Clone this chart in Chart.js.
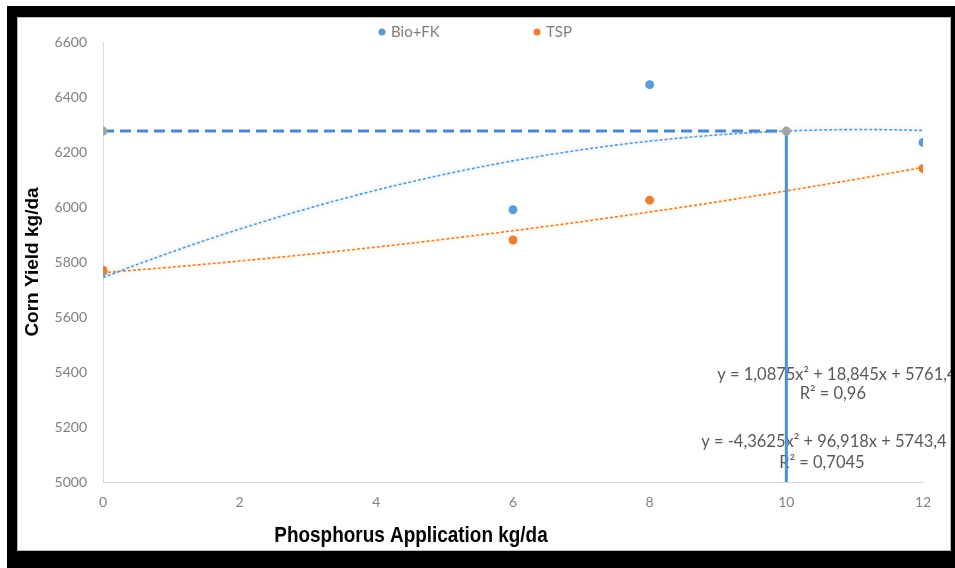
<!DOCTYPE html>
<html>
<head>
<meta charset="utf-8">
<script src="https://cdn.jsdelivr.net/npm/chart.js@4.4.0/dist/chart.umd.min.js"></script>
<style>
  html, body { margin: 0; padding: 0; background: #fff; }
  #frame { position: absolute; left: 7px; top: 6px; width: 948px; height: 562px; background: #000; }
  #chart { position: absolute; left: 17px; top: 17px; width: 934px; height: 534px; background: #fff; box-shadow: inset 0 0 0 1px #b8b8b8; }
</style>
</head>
<body>
<div id="frame"></div>
<div id="chart"><canvas id="c"></canvas></div>
<script>
// phosphorus dose (kg/da) and measured corn yield (kg/da)
const phosphorus = [0, 6, 8, 12];
const bioFkYield = [5765, 5990, 6445, 6235];
const tspYield = [5770, 5880, 6025, 6140];

// polynomial trendlines, y = a*x^2 + b*x + c
const bioFkTrend = [-4.3625, 96.918, 5743.4];
const tspTrend = [1.0875, 18.845, 5761.4];
const bioFkR2 = '0,7045';
const tspR2 = '0,96';

const optimumDose = 10;
const optimumYield = 6276;

const xTicks = [0, 2, 4, 6, 8, 10, 12];
const yTicks = [5000, 5200, 5400, 5600, 5800, 6000, 6200, 6400, 6600];

const BLUE = '#5B9BD5';
const ORANGE = '#ED7D31';
const GRAY = '#A5A5A5';
const TICK_FONT = { family: 'Lato, "Open Sans", sans-serif', size: 14 };

function points(xs, ys) {
    return xs.map((x, i) => ({ x: x, y: ys[i] }));
}

function trendCurve(coef) {
    const pts = [];
    for (let x = xTicks[0]; x <= xTicks[xTicks.length - 1] + 1e-9; x += 0.25) {
        pts.push({ x: x, y: coef[0] * x * x + coef[1] * x + coef[2] });
    }
    return pts;
}

function equation(coef) {
    const f = v => String(v).replace('.', ',');
    return 'y = ' + f(coef[0]) + 'x\u00B2 + ' + f(coef[1]) + 'x + ' + f(coef[2]);
}

// soft glow under the dotted trendlines
const glowPlugin = {
    id: 'glow',
    beforeDatasetDraw(chart, args) {
        const ds = chart.data.datasets[args.index];
        if (!ds.glow) return;
        chart.ctx.save();
        chart.ctx.shadowColor = ds.glow;
        chart.ctx.shadowBlur = 5;
    },
    afterDatasetDraw(chart, args) {
        if (chart.data.datasets[args.index].glow) chart.ctx.restore();
    }
};

// trendline equations, drawn under the marks
const equationPlugin = {
    id: 'equations',
    beforeDatasetsDraw(chart) {
        const { ctx, scales: { x, y } } = chart;
        ctx.save();
        ctx.font = '16.5px Lato, "Open Sans", sans-serif';
        ctx.fillStyle = '#595959';
        ctx.textAlign = 'center';
        ctx.textBaseline = 'middle';
        ctx.fillText(equation(tspTrend), x.getPixelForValue(10.74), y.getPixelForValue(5390));
        ctx.fillText('R\u00B2 = ' + tspR2, x.getPixelForValue(10.68), y.getPixelForValue(5320));
        ctx.fillText(equation(bioFkTrend), x.getPixelForValue(10.55), y.getPixelForValue(5146));
        ctx.fillText('R\u00B2 = ' + bioFkR2, x.getPixelForValue(10.52), y.getPixelForValue(5070));
        ctx.restore();
    }
};

// legend for the two treatments and the x-axis title
const labelsPlugin = {
    id: 'labels',
    afterDraw(chart) {
        const ctx = chart.ctx;
        ctx.save();
        const items = [[0, 365], [1, 520]];
        ctx.font = '15px Lato, "Open Sans", sans-serif';
        ctx.textBaseline = 'middle';
        ctx.textAlign = 'left';
        items.forEach(([i, cx]) => {
            const ds = chart.data.datasets[i];
            ctx.fillStyle = ds.backgroundColor;
            ctx.beginPath();
            ctx.arc(cx, 15, 3.5, 0, Math.PI * 2);
            ctx.fill();
            ctx.fillStyle = '#7f7f7f';
            ctx.fillText(ds.label, cx + 9, 15);
        });
        // condensed bold title
        ctx.font = 'bold 22px "Liberation Sans", Arial, sans-serif';
        ctx.fillStyle = '#000';
        ctx.textAlign = 'center';
        ctx.translate(411 - 17, 519);
        ctx.scale(0.86, 1);
        ctx.fillText('Phosphorus Application kg/da', 0, 0);
        ctx.restore();
    }
};

const ctx = document.getElementById('c').getContext('2d');
new Chart(ctx, {
    type: 'scatter',
    data: {
        datasets: [
            { label: 'Bio+FK', data: points(phosphorus, bioFkYield), backgroundColor: BLUE, borderColor: BLUE,
              pointRadius: 4.5, pointBorderWidth: 0, order: 2 },
            { label: 'TSP', data: points(phosphorus, tspYield), backgroundColor: ORANGE, borderColor: ORANGE,
              pointRadius: 4.5, pointBorderWidth: 0, order: 1 },
            { label: 'Bio+FK trend', data: trendCurve(bioFkTrend), showLine: true, borderColor: BLUE,
              borderWidth: 1.6, borderDash: [3, 2], pointRadius: 0, glow: 'rgba(91,155,213,0.45)', order: 6 },
            { label: 'TSP trend', data: trendCurve(tspTrend), showLine: true, borderColor: ORANGE,
              borderWidth: 1.6, borderDash: [3, 2], pointRadius: 0, glow: 'rgba(255,200,80,0.55)', order: 6 },
            { label: 'optimum yield', data: [{ x: 0, y: optimumYield }, { x: optimumDose, y: optimumYield }],
              showLine: true, borderColor: '#4A86D6', borderWidth: 3, borderDash: [11, 6], pointRadius: 0, order: 5 },
            { label: 'optimum dose', data: [{ x: optimumDose, y: optimumYield }, { x: optimumDose, y: yTicks[0] }],
              showLine: true, borderColor: '#4A90E2', borderWidth: 3, pointRadius: 0, order: 4 },
            { label: 'optimum', data: [{ x: 0, y: optimumYield }, { x: optimumDose, y: optimumYield }],
              backgroundColor: GRAY, borderColor: GRAY, pointRadius: 4.5, pointBorderWidth: 0, order: 0 }
        ]
    },
    options: {
        responsive: true,
        maintainAspectRatio: false,
        animation: false,
        layout: { padding: { top: 25, right: 28, left: 0, bottom: 0 } },
        plugins: {
            legend: { display: false },
            tooltip: { enabled: false }
        },
        scales: {
            x: {
                type: 'linear',
                min: xTicks[0],
                max: xTicks[xTicks.length - 1],
                afterBuildTicks: s => { s.ticks = xTicks.map(v => ({ value: v })); },
                afterFit: s => { s.height = 69; },
                grid: { display: false, drawTicks: false },
                border: { color: '#d9d9d9', width: 1 },
                ticks: { color: '#808080', font: TICK_FONT, padding: 12, callback: v => String(v) }
            },
            y: {
                min: yTicks[0],
                max: yTicks[yTicks.length - 1],
                afterBuildTicks: s => { s.ticks = yTicks.map(v => ({ value: v })); },
                afterFit: s => { s.width = 86; },
                grid: { display: false, drawTicks: false },
                border: { color: '#d9d9d9', width: 1 },
                ticks: { color: '#808080', font: TICK_FONT, padding: 16, callback: v => String(v) },
                title: {
                    display: true,
                    text: 'Corn Yield kg/da',
                    color: '#000',
                    font: { family: '"Liberation Sans", Arial, sans-serif', weight: 'bold', size: 19 },
                    padding: { top: 4, bottom: 0 }
                }
            }
        }
    },
    plugins: [glowPlugin, equationPlugin, labelsPlugin]
});
</script>
</body>
</html>
